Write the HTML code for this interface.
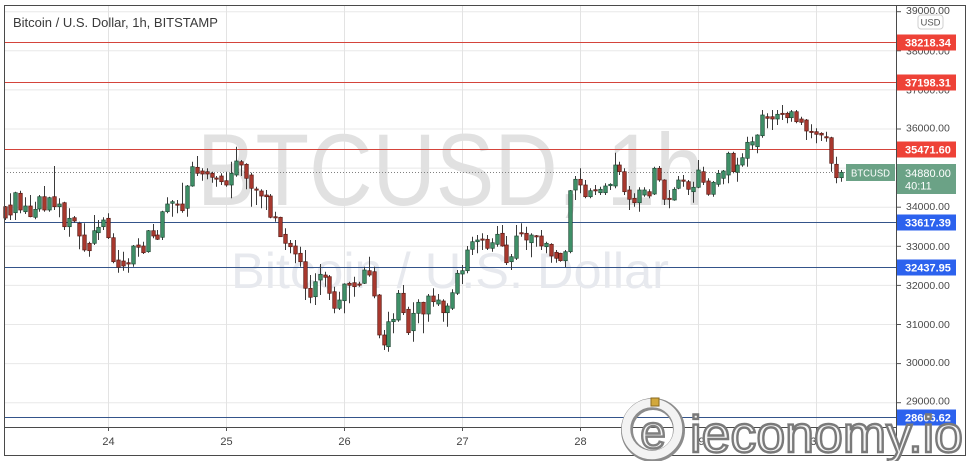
<!DOCTYPE html>
<html>
<head>
<meta charset="utf-8">
<style>
  html,body{margin:0;padding:0;background:#fff;}
  body{width:973px;height:461px;overflow:hidden;}
  svg{display:block;font-family:"Liberation Sans",sans-serif;}
</style>
</head>
<body>
<svg id="chart" width="973" height="461" viewBox="0 0 973 461" xmlns="http://www.w3.org/2000/svg">
  <defs>
    <clipPath id="axclip"><rect x="897" y="6" width="69" height="449"/></clipPath>
  </defs>
  <rect x="0" y="0" width="973" height="461" fill="#fff"/>

  <g stroke="#e8e8e8" stroke-width="1">
    <line x1="4" x2="897" y1="11.7" y2="11.7"/>
    <line x1="4" x2="897" y1="50.8" y2="50.8"/>
    <line x1="4" x2="897" y1="89.9" y2="89.9"/>
    <line x1="4" x2="897" y1="129" y2="129"/>
    <line x1="4" x2="897" y1="168.1" y2="168.1"/>
    <line x1="4" x2="897" y1="207.2" y2="207.2"/>
    <line x1="4" x2="897" y1="246.3" y2="246.3"/>
    <line x1="4" x2="897" y1="285.4" y2="285.4"/>
    <line x1="4" x2="897" y1="324.5" y2="324.5"/>
    <line x1="4" x2="897" y1="363.6" y2="363.6"/>
    <line x1="4" x2="897" y1="402.7" y2="402.7"/>
  </g>
  <g stroke="#e3e3e3" stroke-width="1">
    <line x1="108.5" x2="108.5" y1="5" y2="427"/>
    <line x1="226.5" x2="226.5" y1="5" y2="427"/>
    <line x1="344.5" x2="344.5" y1="5" y2="427"/>
    <line x1="462.5" x2="462.5" y1="5" y2="427"/>
    <line x1="580.5" x2="580.5" y1="5" y2="427"/>
    <line x1="698.5" x2="698.5" y1="5" y2="427"/>
    <line x1="816.5" x2="816.5" y1="5" y2="427"/>
  </g>

  <text x="197" y="205" font-size="102" fill="#e1e1e1" textLength="507" lengthAdjust="spacingAndGlyphs">BTCUSD, 1h</text>
  <text x="231" y="288" font-size="50" fill="#e7e9ee" textLength="438" lengthAdjust="spacingAndGlyphs">Bitcoin / U.S. Dollar</text>

  <text x="13" y="27" font-size="13" fill="#3a3a3a">Bitcoin / U.S. Dollar, 1h, BITSTAMP</text>

  <g stroke-width="1">
    <line x1="4" x2="897" y1="42.5" y2="42.5" stroke="#d4443b"/>
    <line x1="4" x2="897" y1="82.5" y2="82.5" stroke="#d4443b"/>
    <line x1="4" x2="897" y1="149.5" y2="149.5" stroke="#d4443b"/>
    <line x1="4" x2="897" y1="222.5" y2="222.5" stroke="#34548a"/>
    <line x1="4" x2="897" y1="267.5" y2="267.5" stroke="#34548a"/>
    <line x1="4" x2="897" y1="417.5" y2="417.5" stroke="#34548a"/>
  </g>
  <line x1="4" x2="846" y1="172.5" y2="172.5" stroke="#808080" stroke-width="1" stroke-dasharray="1,2"/>

  <g id="candles"></g>

  <rect x="846" y="164" width="49" height="17" fill="#6ba286"/>
  <text x="851" y="176.5" font-size="10.5" fill="#fff" textLength="39" lengthAdjust="spacingAndGlyphs">BTCUSD</text>

  <g stroke="#4a4a4a" stroke-width="1" fill="none">
    <line x1="4.5" x2="4.5" y1="5" y2="455.5"/>
    <line x1="4" x2="966" y1="5.5" y2="5.5"/>
    <line x1="965.5" x2="965.5" y1="5" y2="455.5"/>
    <line x1="4" x2="966" y1="455.5" y2="455.5"/>
    <line x1="896.5" x2="896.5" y1="5" y2="455.5"/>
    <line x1="4" x2="897" y1="427.5" y2="427.5"/>
  </g>

  <g stroke="#555" stroke-width="1">
    <line x1="897" x2="901" y1="11.7" y2="11.7"/>
    <line x1="897" x2="901" y1="50.8" y2="50.8"/>
    <line x1="897" x2="901" y1="89.9" y2="89.9"/>
    <line x1="897" x2="901" y1="129" y2="129"/>
    <line x1="897" x2="901" y1="207.2" y2="207.2"/>
    <line x1="897" x2="901" y1="246.3" y2="246.3"/>
    <line x1="897" x2="901" y1="285.4" y2="285.4"/>
    <line x1="897" x2="901" y1="324.5" y2="324.5"/>
    <line x1="897" x2="901" y1="363.6" y2="363.6"/>
    <line x1="897" x2="901" y1="402.7" y2="402.7"/>
  </g>
  <g font-size="10.5" fill="#4a4a4a" clip-path="url(#axclip)">
    <text x="906" y="14">39000.00</text>
    <text x="906" y="54.6">38000.00</text>
    <text x="906" y="93.7">37000.00</text>
    <text x="906" y="131.5">36000.00</text>
    <text x="906" y="210">34000.00</text>
    <text x="906" y="249.8">33000.00</text>
    <text x="906" y="288.8">32000.00</text>
    <text x="906" y="327.8">31000.00</text>
    <text x="906" y="366.2">30000.00</text>
    <text x="906" y="404.6">29000.00</text>
  </g>

  <rect x="918" y="15" width="25" height="14" rx="3" fill="#fff" stroke="#cfcfcf"/>
  <text x="930.5" y="25.5" font-size="9.5" fill="#555" text-anchor="middle">USD</text>

  <g font-size="11" font-weight="bold" fill="#fff">
    <rect x="897" y="34.5" width="59" height="16" fill="#ee4237"/>
    <text x="905" y="46.5">38218.34</text>
    <rect x="897" y="74.5" width="59" height="16" fill="#ee4237"/>
    <text x="905" y="86.5">37198.31</text>
    <rect x="897" y="141.5" width="59" height="16" fill="#ee4237"/>
    <text x="905" y="153.5">35471.60</text>
    <rect x="897" y="164" width="59" height="30" fill="#6ba286"/>
    <text x="905" y="177" font-weight="normal">34880.00</text>
    <text x="905" y="189.5" font-weight="normal">40:11</text>
    <rect x="897" y="214.5" width="59" height="16" fill="#2c62ee"/>
    <text x="905" y="226.5">33617.39</text>
    <rect x="897" y="259.5" width="59" height="16" fill="#2c62ee"/>
    <text x="905" y="271.5">32437.95</text>
    <rect x="897" y="409.5" width="59" height="16" fill="#2c62ee"/>
    <text x="905" y="421.5">28606.62</text>
  </g>

  <g stroke="#555" stroke-width="1">
    <line x1="108.5" x2="108.5" y1="427" y2="431"/>
    <line x1="226.5" x2="226.5" y1="427" y2="431"/>
    <line x1="344.5" x2="344.5" y1="427" y2="431"/>
    <line x1="462.5" x2="462.5" y1="427" y2="431"/>
    <line x1="580.5" x2="580.5" y1="427" y2="431"/>
    <line x1="698.5" x2="698.5" y1="427" y2="431"/>
    <line x1="816.5" x2="816.5" y1="427" y2="431"/>
  </g>
  <g font-size="11" fill="#444" text-anchor="middle">
    <text x="108.5" y="445">24</text>
    <text x="226.5" y="445">25</text>
    <text x="344.5" y="445">26</text>
    <text x="462.5" y="445">27</text>
    <text x="580.5" y="445">28</text>
    <text x="698.5" y="445">29</text>
    <text x="816.5" y="445">30</text>
  </g>

  <g>
    <circle cx="653" cy="430" r="26" fill="none" stroke="#8c8c8c" stroke-width="12"/>
    <circle cx="652" cy="429" r="26" fill="none" stroke="#f3f3f3" stroke-width="8.5"/>
    <text x="654" y="449" font-size="46" text-anchor="middle" fill="#9a9a9a">e</text>
    <text x="653" y="448" font-size="46" text-anchor="middle" fill="#f6f6f6" stroke="#808080" stroke-width="2.4">e</text>
    <rect x="651" y="398" width="8" height="8" fill="#d2a83c" stroke="#8a6a20" stroke-width="1"/>
    <text x="691" y="453" font-size="52" fill="#9a9a9a" textLength="273" lengthAdjust="spacingAndGlyphs">ieconomy.io</text>
    <text x="690" y="452" font-size="52" fill="#f6f6f6" stroke="#7a7a7a" stroke-width="2.4" textLength="273" lengthAdjust="spacingAndGlyphs">ieconomy.io</text>
  </g>
</svg>

<script>
(function(){
  var D=[
[206.7,218,206,220,0],[205,215,193.3,220,0],[192.7,212.7,191.7,220,1],[193.3,210,190.7,213.3,0],
[206,211.7,197.3,214,1],[206,216.7,195,217.3,0],[209.3,217.3,201.7,219.3,1],[196.7,209,195,211.7,1],
[196.7,210,186,211.7,0],[197.7,210,196.7,211.7,1],[196.7,206.7,166,210,0],[204,206.7,198.3,217.3,1],
[202.7,226.7,201.7,230,0],[218.3,226.7,208.3,236.7,1],[217.7,221,216,222.7,0],[223.3,236,221.7,249.3,0],
[235,250,223.3,251.7,0],[243.3,250.7,241.7,256.7,0],[230.7,243.3,215,245,1],[227.3,232.7,220,240,1],
[220,226.7,217.3,230,1],[218.3,237.7,213.3,239,0],[237.7,261.7,233.3,263.3,0],[260,267.3,250,272.7,0],
[261,266,251.7,270.7,0],[262.7,264,258.3,272.7,0],[246,264,245,266.7,1],[245,247.3,238.3,256.7,0],
[246,252.7,241.7,254,0],[230.7,251.7,230,252.7,1],[230.7,236,224,238.3,0],[235,239.3,230,240,0],
[211.7,237.3,210.7,240,1],[204,211.7,197.3,213.3,1],[201.7,203.3,200,216.7,1],[204,205,200,213.3,0],
[204,210.7,182.7,212.7,0],[186,208.3,185,216.7,1],[166.7,186,161.7,186.7,1],[167.3,173.3,156,176,0],
[171,174,168.3,180.7,0],[171.7,174,168.3,179.3,0],[173.3,177.3,171.7,182.7,0],[178,178.7,176,186.7,0],
[176,181.7,173.3,185,0],[180.7,185,171.7,186.7,0],[173.3,185,161.7,198.3,1],[161,175,146.7,176.7,1],
[161.7,165,160,176,0],[164.3,178.3,163.3,189.3,0],[175,188.3,172.7,206.7,0],[189,190,186.7,205,0],
[191,196,189.3,208.3,0],[195,196.7,190,210,0],[196,217.3,194,218.3,0],[216.7,217.7,211.7,221.7,0],
[217.3,236.7,216.7,236.7,0],[234.3,243.3,228.3,250,0],[243.3,246.7,240,253.3,0],[246,254,240,263.3,0],
[253.3,261.7,246.7,266.7,0],[261.7,288.3,250,300,0],[288.3,297.3,275,303.3,0],[281.7,296.7,273.3,305,1],
[274.3,280,264,295,1],[275,277.3,271.7,286.7,0],[276.7,293.3,275,300,0],[291.7,308.3,286.7,313.3,0],
[300,308.3,291.7,310,1],[284,300.7,283.3,313.3,1],[283.3,285.3,281.7,303.3,0],[282.7,286.7,276.7,296.7,0],
[284,285,281.7,286.7,0],[270,283.3,266.7,284,1],[270.7,275,256.7,276.7,0],[271.7,296,266.7,298.3,0],
[295,335,294,338.3,0],[335,345,330,350,0],[321.7,346.7,311.7,351.7,1],[319.3,321.7,313.3,333.3,1],
[293.3,320,290,321.7,1],[293.3,312.7,285,315,0],[309.3,332.7,306.7,335,0],[313.3,330.7,302.3,341.7,1],
[302.3,313.3,299.3,323.3,1],[302.3,314,301.7,333.3,0],[296,314,294,321.7,1],[296,301.7,288.3,306.7,0],
[300,304,294,306,1],[301,312.7,299.3,321.7,0],[306,312.7,303.3,326.7,1],[292.7,308.3,289.3,310,1],
[273.3,293.3,270,295,1],[270.7,274,265,284,1],[250,270.7,246,273.3,1],[241.7,249.3,236.7,255,1],
[240,241.7,235,253.3,1],[239,240,233.3,250,0],[239.3,248.3,235,250,0],[242.7,248.3,238.3,251.7,1],
[234.3,244.3,226,246.7,1],[233.3,246,225,246.7,0],[245,262.7,236,265,0],[256.7,261.7,254,270,1],
[236,258.3,225,260,1],[232.7,233.7,223.3,236.7,0],[233.3,240,226.7,250,0],[235,242.7,233.3,257.3,1],
[235.7,236.7,235,246.7,0],[236,246,230,250,0],[243.3,246.7,241.7,253.3,1],[244.3,256,243.3,262.7,0],
[252.3,258.3,250,262.7,0],[253.3,260.7,252.7,261.7,0],[251.7,260.7,250,267.3,1],[190.7,251.7,190,253.3,1],
[179.3,190,176,200,1],[179.3,185,168.3,193.3,0],[185,196.7,180,198.3,0],[190.7,196.7,188.3,198.3,1],
[189.7,190.7,185,195,0],[189.3,192.7,186.7,195,1],[186,192.7,183.3,195,1],[184.3,185.7,183.3,190,1],
[165,186,152.7,188.3,1],[165,171.7,161.7,175,0],[171.7,191.7,168.3,195,0],[190,199.3,186,210,0],
[198.3,202.7,193.3,206.7,0],[190,202.7,187.3,211.7,1],[190,195,187.3,196.7,1],[191.7,196,189.3,198.3,0],
[168.3,194,166.7,195,1],[168.3,180,166,181.7,0],[180,199.3,179.3,205,0],[198.3,199.3,190,208.3,0],
[189.3,200,187.3,200.7,1],[180,188.3,176,189.3,1],[180,181.3,175,186.7,0],[181.7,189.3,180,195,0],
[187.3,191.7,181.7,202.7,1],[170,187.3,160,188.3,1],[171.7,182.3,166.7,185,0],[181,194.3,178.3,195.7,0],
[182.3,194.3,181,196.7,1],[173.3,184.3,170,186.7,1],[171,178.3,170,184.3,1],[153.3,175,151.7,183.3,1],
[153.3,171.7,151.7,173.3,0],[165,172.3,157.7,181.7,1],[157.7,165,153.3,166.7,1],[142.3,158.3,136.7,166.7,1],
[141.7,145,136.7,150,1],[135,146.7,134.3,153.3,1],[115,135.7,110,137.7,1],[116.7,118.3,113.3,128.3,0],
[116.7,119,110,130,0],[114.3,119,110,125,1],[113.3,114.3,105,120,0],[113.3,117.7,111.7,123.3,0],
[111.7,117.7,110,121.7,1],[111.7,121.7,110,123.3,0],[119,122.3,116.7,125,0],[120,131,119,140,0],
[131.3,132,124.3,138.3,0],[131.7,134.3,128.3,143.3,0],[133.3,135,132.3,141,0],[136.7,137.7,131.7,141.7,0],
[137.7,163.3,136.7,171.7,0],[164.3,177.7,156.7,183.3,0],[172.3,177.7,170,181.7,1]
  ];
  var X0=108.3, P=4.915, s='';
  for(var i=0;i<D.length;i++){
    var d=D[i], x=X0+(i-21)*P, g=d[4];
    var xr=(Math.round(x)+0.5).toFixed(1);
    s+='<line x1="'+xr+'" x2="'+xr+'" y1="'+d[2]+'" y2="'+d[3]+'" stroke="#3a3a3a" stroke-width="1"/>';
    var h=Math.max(d[1]-d[0],1.2);
    s+='<rect x="'+(Math.round(x)-1.3).toFixed(1)+'" y="'+d[0]+'" width="3.6" height="'+h.toFixed(1)+'" fill="'+(g?'#3f9068':'#a8382e')+'" stroke="'+(g?'#1f4a35':'#5a1c16')+'" stroke-width="0.7"/>';
  }
  document.getElementById('candles').innerHTML=s;
})();
</script>
</body>
</html>
